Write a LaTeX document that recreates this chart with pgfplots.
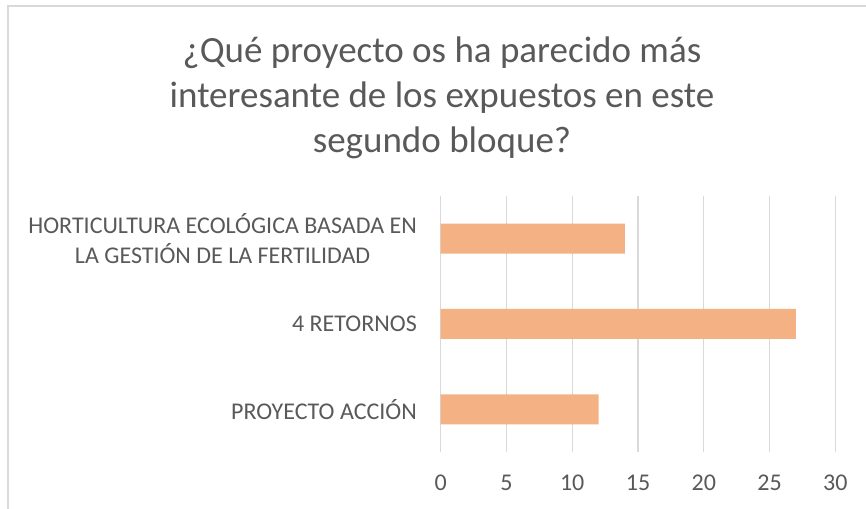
\documentclass[border=0pt]{standalone}
\usepackage{pgfplots}
\pgfplotsset{compat=1.18}
\usepackage{fontspec}
\setmainfont{Carlito}
\definecolor{txt}{HTML}{595959}
\definecolor{gridc}{HTML}{D9D9D9}
\definecolor{barc}{HTML}{F4B183}
\begin{document}
\begin{tikzpicture}
\useasboundingbox (0,0) rectangle (866bp,509bp);
\draw[gridc, line width=1.3bp] (8bp,0) -- (8bp,503bp) -- (866bp,503bp);
\begin{scope}[every node/.style={text=txt, font=\fontsize{37bp}{45bp}\selectfont, inner sep=0pt, anchor=base}]
\node at (442bp,446.3bp) {¿Qué proyecto os ha parecido más};
\node at (442bp,401bp) {interesante de los expuestos en este};
\node at (442bp,356bp) {segundo bloque?};
\end{scope}
\begin{axis}[
  at={(440.7bp,57bp)}, anchor=south west,
  scale only axis, width=394.6bp, height=256bp,
  xbar, bar width=30bp,
  xmin=0, xmax=30, ymin=-0.5, ymax=2.5,
  enlargelimits=false,
  xtick={0,5,...,30},
  ytick={0,1,2},
  yticklabels={PROYECTO ACCIÓN, 4 RETORNOS, {HORTICULTURA ECOLÓGICA BASADA EN\\LA GESTIÓN DE LA FERTILIDAD}},
  axis line style={draw=none},
  major tick length=0pt,
  tick style={draw=none},
  xmajorgrids, ymajorgrids=false,
  major grid style={draw=gridc, line width=1.3bp},
  /pgf/number format/assume math mode=true,
  ticklabel style={text=txt, font=\fontsize{24bp}{30bp}\selectfont, inner sep=0pt},
  yticklabel style={align=center, anchor=east, xshift=-23.7bp},
  xticklabel style={anchor=north, yshift=-23bp},
  clip=false,
]
\addplot[fill=barc, draw=none] coordinates {(12,0) (27,1) (14,2)};
\end{axis}
\end{tikzpicture}
\end{document}
